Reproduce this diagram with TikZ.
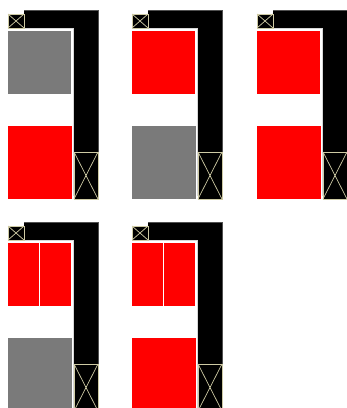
\documentclass[tikz,border=0pt]{standalone}
\usepackage{xcolor}
\usepackage{tikz}

\definecolor{wire}{RGB}{206,202,164}
\definecolor{slab}{RGB}{122,122,122}
\definecolor{rimdark}{RGB}{80,80,80}
\definecolor{rimlight}{RGB}{215,215,215}

\begin{document}
\begin{tikzpicture}[
  x=1pt, y=-1pt,
  frame/.style={fill=black},
  outerrim/.style={draw=rimdark, line width=0.7pt},
  innerrim/.style={draw=rimlight, line width=0.9pt},
  xbox/.style={fill=black, draw=wire, line width=0.7pt},
  xline/.style={draw=wire, line width=0.7pt},
  pics/panel/.style n args={3}{code={
    \fill[frame] (24,10) -- (98,10) -- (98,152) -- (74,152) -- (74,28) -- (24,28) -- cycle;
    \draw[outerrim] (24,10) -- (98,10) -- (98,152);
    \draw[innerrim] (24,28.5) -- (73.5,28.5) -- (73.5,196);
    \draw[xbox] (8,14) rectangle (24,28);
    \draw[xline] (8,14) -- (24,28) (8,28) -- (24,14);
    \draw[xbox] (74,152) rectangle (98,199);
    \draw[xline] (74,152) -- (98,199) (74,199) -- (98,152);
    \fill[#1] (8,31) rectangle (71,93.5);
    \draw[#3, line width=1pt] (39.5,31) -- (39.5,93.5);
    \fill[#2] (8,126) rectangle (72,199);
  }}
]
\useasboundingbox (0,0) rectangle (347,408);
\clip (0,0) rectangle (347,408);

\pic at (0,0)     {panel={slab}{red}{draw=none}};
\pic at (124,0)   {panel={red}{slab}{draw=none}};
\pic at (249,0)   {panel={red}{red}{draw=none}};
\pic at (0,212)   {panel={red}{slab}{white}};
\pic at (124,212) {panel={red}{red}{white}};
\end{tikzpicture}
\end{document}
